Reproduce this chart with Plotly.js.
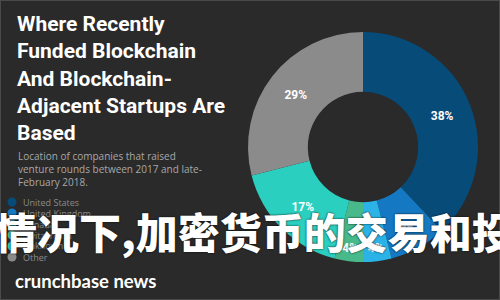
<!DOCTYPE html>
<html><head><meta charset="utf-8">
<script src="https://cdn.plot.ly/plotly-3.0.1.min.js"></script>
<style>html,body{margin:0;padding:0;background:#2a2a2a;}#chart{width:500px;height:300px;}</style>
</head><body><div id="chart"></div>
<script>
const countries = ['United States','United Kingdom','Canada','Switzerland','Unknown','Other'];
const shares = [38, 8, 4, 4, 17, 29];
const sliceColors = ['#074b79','#1479c2','#2bb3e8','#47b98b','#2bcfc0','#8b8b8b'];
const titleLines = ['Where Recently','Funded Blockchain','And Blockchain-','Adjacent Startups Are','Based'];
const subtitleLines = ['Location of companies that raised','venture rounds between 2017 and late-','February 2018.'];
const overlayText = '情况下,加密货币的交易和投';
const brandText = 'crunchbase news';

const W = 500, H = 300;
const px = x => x / W;
const py = y => 1 - y / H;

const cx = 363, cy = 147, r = 115;

const trace = {
  type: 'pie',
  values: shares,
  labels: countries,
  marker: {colors: sliceColors, line: {width: 0}},
  hole: 0.48,
  sort: false,
  direction: 'clockwise',
  rotation: 0,
  textinfo: 'text',
  texttemplate: '%{value}%',
  textposition: 'inside',
  insidetextorientation: 'horizontal',
  textfont: {family: 'Roboto', size: 12, color: '#ffffff', weight: 'bold'},
  domain: {x: [px(cx - r), px(cx + r)], y: [py(cy + r), py(cy - r)]},
  showlegend: false,
  hoverinfo: 'none'
};

const annotations = [];
const shapes = [];

annotations.push({
  xref: 'paper', yref: 'paper', x: px(15), y: py(79), xanchor: 'left', yanchor: 'middle',
  align: 'left', showarrow: false, text: titleLines.join('<br>'),
  font: {family: 'Roboto', size: 21, color: '#ffffff', weight: 'bold'}
});
annotations.push({
  xref: 'paper', yref: 'paper', x: px(16), y: py(169), xanchor: 'left', yanchor: 'middle',
  align: 'left', showarrow: false, text: subtitleLines.join('<br>'),
  font: {family: 'Open Sans', size: 10, color: '#a8a8a8'}
});

const legTop = 202, legStep = 11;
countries.forEach((c, i) => {
  const y = legTop + i * legStep;
  shapes.push({
    type: 'circle', xref: 'paper', yref: 'paper', xsizemode: 'pixel', ysizemode: 'pixel',
    xanchor: px(12), yanchor: py(y), x0: -4.5, x1: 4.5, y0: -4.5, y1: 4.5,
    fillcolor: sliceColors[i], line: {width: 0}
  });
  annotations.push({
    xref: 'paper', yref: 'paper', x: px(21), y: py(y), xanchor: 'left', yanchor: 'middle',
    showarrow: false, text: c, font: {family: 'Open Sans', size: 9, color: '#8a8a8a'}
  });
});

annotations.push({
  xref: 'paper', yref: 'paper', x: px(13), y: py(281), xanchor: 'left', yanchor: 'middle',
  showarrow: false, text: brandText,
  font: {family: 'Lato', size: 18.5, color: '#ffffff', weight: 'bold'}
});

annotations.push({
  xref: 'paper', yref: 'paper', x: px(254), y: py(230), xanchor: 'center', yanchor: 'middle',
  showarrow: false, text: overlayText,
  font: {family: 'Noto Sans CJK SC', size: 42, color: '#ffffff', weight: 900,
         shadow: '0px 0px 2px #000000'}
});

shapes.push({type: 'rect', xref: 'paper', yref: 'paper', x0: 0, x1: 1, y0: 0, y1: 1,
  line: {color: '#4a4a4a', width: 2}, fillcolor: 'rgba(0,0,0,0)', layer: 'below'});

const layout = {
  width: W, height: H,
  margin: {l: 0, r: 0, t: 0, b: 0},
  paper_bgcolor: '#2a2a2a', plot_bgcolor: '#2a2a2a',
  showlegend: false,
  annotations, shapes
};

Plotly.newPlot('chart', [trace], layout, {displayModeBar: false, staticPlot: true});
</script></body></html>
